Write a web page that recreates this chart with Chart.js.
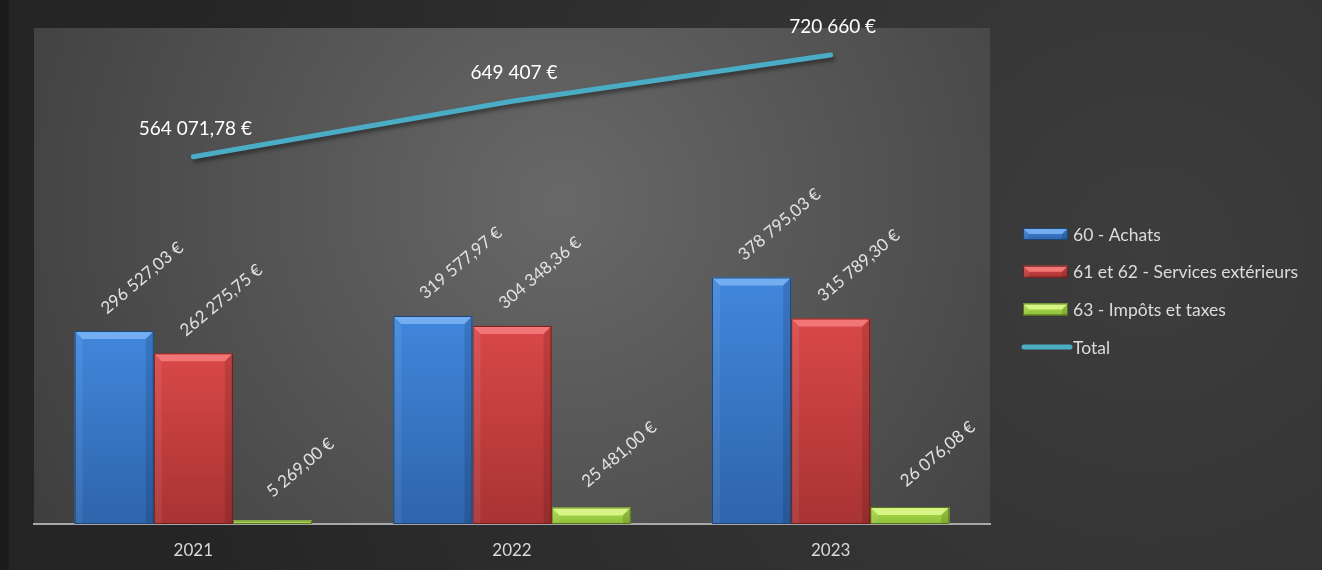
<!DOCTYPE html>
<html lang="fr">
<head>
    <meta charset="UTF-8">
    <title>Charges</title>
    <style>
        body {
            margin: 0;
            padding: 0;
            background: #1c1c1c;
        }
        #chart {
            display: block;
        }
    </style>
</head>
<body>
    <canvas id="chart" width="1322" height="570"></canvas>

    <script src="https://cdn.jsdelivr.net/npm/chart.js"></script>
    <script>
        // data
        const years = ['2021', '2022', '2023'];
        const achats = [296527.03, 319577.97, 378795.03];
        const services = [262275.75, 304348.36, 315789.30];
        const impots = [5269.00, 25481.00, 26076.08];
        const totals = [564071.78, 649407, 720660];
        const seriesNames = ['60 - Achats', '61 et 62 - Services extérieurs', '63 - Impôts et taxes', 'Total'];

        const FONT = 'Lato, "Open Sans", sans-serif';

        const barStyles = [
            { top: '#4187dc', bottom: '#2e64ab', bevel: '#74aef0', border: '#1d4676' },
            { top: '#d94848', bottom: '#a93333', bevel: '#f27676', border: '#6e1c1c' },
            { top: '#acdc4c', bottom: '#8fbf39', bevel: '#d6f585', border: '#55741c' }
        ];

        function fmt(v, forceDecimals) {
            let dec = forceDecimals || Math.round(v) !== v ? 2 : 0;
            let s = v.toFixed(dec);
            let parts = s.split('.');
            let intPart = parts[0].replace(/\B(?=(\d{3})+(?!\d))/g, ' ');
            return intPart + (parts[1] ? ',' + parts[1] : '') + ' €';
        }

        function bevelBox(ctx, left, top, right, bottom, st) {
            const h = bottom - top;
            const w = right - left;
            if (h <= 0) return;
            const g = ctx.createLinearGradient(0, top, 0, bottom);
            g.addColorStop(0, st.top);
            g.addColorStop(1, st.bottom);
            ctx.fillStyle = g;
            ctx.fillRect(left, top, w, h);
            const b = Math.min(8, h / 2, w / 2);
            // top bevel
            ctx.fillStyle = st.bevel;
            ctx.beginPath();
            ctx.moveTo(left, top);
            ctx.lineTo(right, top);
            ctx.lineTo(right - b, top + b);
            ctx.lineTo(left + b, top + b);
            ctx.closePath();
            ctx.fill();
            // side bevels
            ctx.fillStyle = 'rgba(255,255,255,0.07)';
            ctx.beginPath();
            ctx.moveTo(left, top);
            ctx.lineTo(left + b, top + b);
            ctx.lineTo(left + b, bottom);
            ctx.lineTo(left, bottom);
            ctx.closePath();
            ctx.fill();
            ctx.fillStyle = 'rgba(0,0,0,0.12)';
            ctx.beginPath();
            ctx.moveTo(right, top);
            ctx.lineTo(right - b, top + b);
            ctx.lineTo(right - b, bottom);
            ctx.lineTo(right, bottom);
            ctx.closePath();
            ctx.fill();
            ctx.strokeStyle = st.border;
            ctx.lineWidth = 1;
            ctx.strokeRect(left + 0.5, top + 0.5, w - 1, h - 1);
        }

        const backgroundPlugin = {
            id: 'bg',
            beforeDraw(chart) {
                const ctx = chart.ctx;
                const W = chart.width, H = chart.height;
                ctx.save();
                ctx.fillStyle = '#1c1c1c';
                ctx.fillRect(0, 0, W, H);
                const g = ctx.createRadialGradient(1150, 250, 0, 1150, 250, 1000);
                g.addColorStop(0, '#3d3d3d');
                g.addColorStop(1, '#252525');
                ctx.fillStyle = g;
                ctx.fillRect(9, 0, W - 9, H);
                const a = chart.chartArea;
                const pg = ctx.createRadialGradient(560, 200, 0, 560, 200, 620);
                pg.addColorStop(0, '#686868');
                pg.addColorStop(1, '#3e3e3e');
                ctx.fillStyle = pg;
                ctx.fillRect(a.left, a.top, a.right - a.left, a.bottom - a.top);
                ctx.restore();
            }
        };

        const bevelPlugin = {
            id: 'bevel',
            beforeDatasetDraw(chart, args) {
                const ds = chart.data.datasets[args.index];
                if (ds.type === 'line') {
                    chart.ctx.save();
                    chart.ctx.shadowColor = 'rgba(0,0,0,0.45)';
                    chart.ctx.shadowOffsetX = 2;
                    chart.ctx.shadowOffsetY = 3;
                    chart.ctx.shadowBlur = 4;
                }
            },
            afterDatasetDraw(chart, args) {
                const ds = chart.data.datasets[args.index];
                const ctx = chart.ctx;
                if (ds.type === 'line') {
                    ctx.restore();
                    return;
                }
                const st = barStyles[args.index];
                args.meta.data.forEach(el => {
                    const left = el.x - el.width / 2;
                    const right = el.x + el.width / 2;
                    ctx.save();
                    bevelBox(ctx, left, el.y, right, el.base, st);
                    ctx.restore();
                });
            }
        };

        const labelPlugin = {
            id: 'labels',
            afterDatasetsDraw(chart) {
                const ctx = chart.ctx;
                ctx.save();
                chart.data.datasets.forEach((ds, i) => {
                    const meta = chart.getDatasetMeta(i);
                    meta.data.forEach((el, j) => {
                        const v = ds.data[j];
                        if (ds.type === 'line') {
                            ctx.font = '19px ' + FONT;
                            ctx.fillStyle = '#ffffff';
                            ctx.textAlign = 'center';
                            ctx.textBaseline = 'middle';
                            ctx.fillText(fmt(v, false), el.x + 2, el.y - 28);
                        } else {
                            ctx.save();
                            ctx.translate(el.x + 28, el.y - 53);
                            ctx.rotate(-40 * Math.PI / 180);
                            ctx.font = '17px ' + FONT;
                            ctx.fillStyle = '#e2e2e2';
                            ctx.textAlign = 'center';
                            ctx.textBaseline = 'middle';
                            ctx.fillText(fmt(v, true), 0, 0);
                            ctx.restore();
                        }
                    });
                });
                ctx.restore();
            }
        };

        const legendPlugin = {
            id: 'sideLegend',
            afterDraw(chart) {
                const ctx = chart.ctx;
                ctx.save();
                const x0 = 1023, sw = 45, y0 = 234, step = 37.7;
                chart.data.datasets.forEach((ds, i) => {
                    const y = y0 + i * step;
                    if (ds.type === 'line') {
                        ctx.strokeStyle = ds.borderColor;
                        ctx.lineWidth = 5;
                        ctx.lineCap = 'round';
                        ctx.beginPath();
                        ctx.moveTo(x0 + 1, y);
                        ctx.lineTo(x0 + sw + 2, y);
                        ctx.stroke();
                    } else {
                        bevelBox(ctx, x0, y - 6, x0 + sw, y + 6, barStyles[i]);
                    }
                    ctx.font = '17.5px ' + FONT;
                    ctx.fillStyle = '#dcdcdc';
                    ctx.textAlign = 'left';
                    ctx.textBaseline = 'middle';
                    ctx.fillText(ds.label, x0 + 50, y + 1);
                });
                ctx.restore();
            }
        };

        new Chart(document.getElementById('chart'), {
            type: 'bar',
            data: {
                labels: years,
                datasets: [
                    { label: seriesNames[0], data: achats, backgroundColor: '#3a78c8', order: 1 },
                    { label: seriesNames[1], data: services, backgroundColor: '#c83c3c', order: 1 },
                    { label: seriesNames[2], data: impots, backgroundColor: '#9ccc42', order: 1 },
                    {
                        type: 'line',
                        label: seriesNames[3],
                        data: totals,
                        borderColor: '#4bacc6',
                        borderWidth: 5,
                        borderCapStyle: 'round',
                        pointRadius: 0,
                        tension: 0,
                        order: 0
                    }
                ]
            },
            options: {
                responsive: false,
                animation: false,
                events: [],
                layout: {
                    padding: { left: 34, right: 332, top: 28, bottom: 0 }
                },
                datasets: {
                    bar: { categoryPercentage: 0.745, barPercentage: 1.0 }
                },
                plugins: {
                    legend: { display: false },
                    tooltip: { enabled: false }
                },
                scales: {
                    x: {
                        grid: { display: false, drawTicks: false },
                        border: { color: '#a8a8a8', width: 2 },
                        ticks: {
                            color: '#d9d9d9',
                            font: { family: FONT, size: 17, lineHeight: 1.0 },
                            padding: 18
                        },
                        afterFit(scale) {
                            scale.height = 46;
                        }
                    },
                    y: {
                        display: false,
                        min: 0,
                        max: 762000
                    }
                }
            },
            plugins: [backgroundPlugin, bevelPlugin, labelPlugin, legendPlugin]
        });
    </script>
</body>
</html>
